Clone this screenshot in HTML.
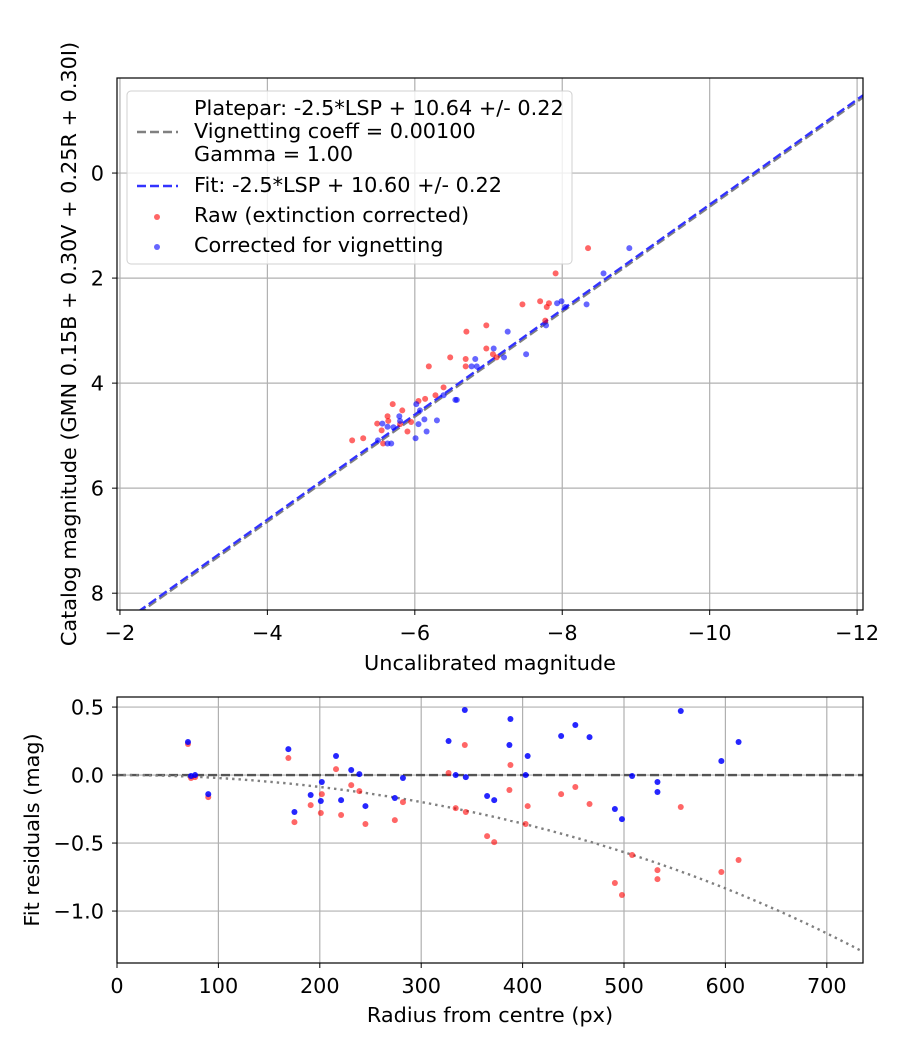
<!DOCTYPE html>
<html><head><meta charset="utf-8"><style>
body{margin:0;background:#fff}
svg{display:block;font-family:"DejaVu Sans","Liberation Sans",sans-serif}
</style></head><body>
<svg id="c" width="900" height="1050" viewBox="0 0 900 1050"></svg>
<script>
// ---- top chart data ----
const rawMag=[-8.35,-7.91,-7.46,-7.70,-7.79,-7.82,-7.77,-6.70,-6.97,-6.97,-6.48,-6.69,-6.69,-7.06,-7.11,-6.19,-6.39,-6.28,-6.05,-6.14,-5.70,-5.83,-5.63,-5.49,-5.64,-5.80,-5.90,-5.55,-5.15,-5.30,-5.57,-5.95];
const rawCat=[1.43,1.91,2.50,2.44,2.55,2.48,2.81,3.02,2.90,3.34,3.51,3.54,3.68,3.45,3.51,3.68,4.08,4.23,4.34,4.30,4.40,4.52,4.63,4.77,4.72,4.78,4.92,4.90,5.09,5.05,5.15,4.74];
const corMag=[-8.91,-8.56,-7.93,-7.99,-8.33,-8.04,-7.78,-7.26,-7.07,-7.51,-7.21,-6.82,-6.77,-6.84,-6.55,-6.57,-6.39,-6.02,-6.07,-6.13,-6.30,-5.79,-6.05,-6.16,-5.71,-5.56,-5.63,-6.01,-5.50,-5.63,-5.68,-5.80];
const corCat=[1.43,1.91,2.48,2.44,2.50,2.55,2.90,3.02,3.34,3.45,3.51,3.54,3.68,3.68,4.32,4.32,4.23,4.40,4.52,4.69,4.71,4.63,4.78,4.92,4.84,4.77,4.83,5.05,5.09,5.15,5.15,4.72];
const platepar=10.64, fitZero=10.60;
const topXTicks=[-2,-4,-6,-8,-10,-12];
const topYTicks=[0,2,4,6,8];
// ---- bottom chart data ----
const radius=[70,73,77,90,169,175,191,202,201,216,221,231,239,245,274,282,327,334,343,344,365,372,388,387,405,403,438,452,466,491,498,508,533,533,556,596,613];
const resCorr=[0.243,-0.007,0,-0.140,0.191,-0.272,-0.147,-0.051,-0.191,0.140,-0.184,0.037,0.007,-0.228,-0.169,-0.022,0.25,0,0.478,-0.015,-0.154,-0.184,0.412,0.221,0.140,0,0.287,0.368,0.279,-0.25,-0.324,-0.007,-0.051,-0.125,0.471,0.103,0.243];
const resRaw=[0.228,-0.022,-0.015,-0.162,0.125,-0.346,-0.221,-0.140,-0.279,0.044,-0.294,-0.074,-0.118,-0.360,-0.331,-0.199,0.015,-0.243,0.221,-0.272,-0.449,-0.493,0.074,-0.110,-0.228,-0.360,-0.140,-0.088,-0.213,-0.794,-0.882,-0.588,-0.699,-0.765,-0.235,-0.713,-0.625];
const vigCoeff=0.001;
const botXTicks=[0,100,200,300,400,500,600,700];
const botYTicks=[0.5,0,-0.5,-1];

const FS=20.8;
const S="http://www.w3.org/2000/svg", svg=document.getElementById('c');
function el(t,a,p){const e=document.createElementNS(S,t);for(const k in a)e.setAttribute(k,a[k]);(p||svg).appendChild(e);return e;}
const T={l:117,r:863,t:78,b:610,x0:-1.96,x1:-12.08,y0:-1.81,y1:8.32};
const tx=v=>T.l+(v-T.x0)/(T.x1-T.x0)*(T.r-T.l);
const ty=v=>T.t+(v-T.y0)/(T.y1-T.y0)*(T.b-T.t);
const B={l:117,r:863,t:697,b:963,x0:0,x1:735.7,y0:0.574,y1:-1.382};
const bx=v=>B.l+(v-B.x0)/(B.x1-B.x0)*(B.r-B.l);
const by=v=>B.t+(v-B.y0)/(B.y1-B.y0)*(B.b-B.t);

function clip(id,A){const d=el('clipPath',{id:id});el('rect',{x:A.l,y:A.t,width:A.r-A.l,height:A.b-A.t},d);}
clip('ct',T);clip('cb',B);

const gT=el('g',{});


topXTicks.forEach(v=>{const x=tx(v);el('line',{x1:x,x2:x,y1:T.t,y2:T.b,stroke:'#b0b0b0','stroke-width':1.2},gT);el('line',{x1:x,x2:x,y1:T.b,y2:T.b+5,stroke:'#000'});
 const t=el('text',{x:x,y:T.b+30,'text-anchor':'middle','font-size':FS});t.textContent=(v<0?'\u2212'+(-v):v);
 });
topYTicks.forEach(v=>{const y=ty(v);el('line',{x1:T.l,x2:T.r,y1:y,y2:y,stroke:'#b0b0b0','stroke-width':1.2},gT);el('line',{x1:T.l-5,x2:T.l,y1:y,y2:y,stroke:'#000'});
 const t=el('text',{x:T.l-13,y:y+7.5,'text-anchor':'end','font-size':FS});t.textContent=v;
 });
const gl=el('g',{'clip-path':'url(#ct)'});
const lp=el('line',{x1:tx(T.x0),y1:ty(T.x0+platepar),x2:tx(T.x1),y2:ty(T.x1+platepar),stroke:'#808080','stroke-width':2.4,'stroke-dasharray':'9 4'},gl);

const lf=el('line',{x1:tx(T.x0),y1:ty(T.x0+fitZero),x2:tx(T.x1),y2:ty(T.x1+fitZero),stroke:'#3333ff','stroke-width':2.4,'stroke-dasharray':'9 4'},gl);

rawMag.forEach((m,i)=>{const c=el('circle',{cx:tx(m),cy:ty(rawCat[i]),r:3,fill:'#ff0000','fill-opacity':0.6},gl);
 });
corMag.forEach((m,i)=>{const c=el('circle',{cx:tx(m),cy:ty(corCat[i]),r:3,fill:'#0000ff','fill-opacity':0.6},gl);
 });
el('rect',{x:T.l,y:T.t,width:T.r-T.l,height:T.b-T.t,fill:'none',stroke:'#000','stroke-width':1.2});

const lg=el('g',{});

el('rect',{x:127,y:91,width:445,height:173,rx:4,fill:'#fff','fill-opacity':0.8,stroke:'#d0d0d0'},lg);
el('line',{x1:137,x2:178,y1:132,y2:132,stroke:'#808080','stroke-width':2.4,'stroke-dasharray':'9 4'},lg);
el('line',{x1:137,x2:178,y1:186,y2:186,stroke:'#3333ff','stroke-width':2.4,'stroke-dasharray':'9 4'},lg);
el('circle',{cx:157,cy:217,r:3,fill:'#ff0000','fill-opacity':0.6},lg);
el('circle',{cx:157,cy:247,r:3,fill:'#0000ff','fill-opacity':0.6},lg);
[['Platepar: -2.5*LSP + 10.64 +/- 0.22',115],['Vignetting coeff = 0.00100',138],['Gamma = 1.00',161],['Fit: -2.5*LSP + 10.60 +/- 0.22',192],['Raw (extinction corrected)',222],['Corrected for vignetting',252]].forEach(([s,y])=>{
 const t=el('text',{x:194,y:y,'font-size':FS},lg);t.textContent=s;
 });

let t=el('text',{x:490,y:670,'text-anchor':'middle','font-size':FS});t.textContent='Uncalibrated magnitude';

t=el('text',{x:0,y:0,'text-anchor':'middle','font-size':FS,transform:'translate(76,344) rotate(-90)'});t.textContent='Catalog magnitude (GMN 0.15B + 0.30V + 0.25R + 0.30I)';


const gB=el('g',{});

botXTicks.forEach(v=>{const x=bx(v);el('line',{x1:x,x2:x,y1:B.t,y2:B.b,stroke:'#b0b0b0','stroke-width':1.2},gB);el('line',{x1:x,x2:x,y1:B.b,y2:B.b+5,stroke:'#000'});
 const t=el('text',{x:x,y:B.b+30,'text-anchor':'middle','font-size':FS});t.textContent=v;
 });
botYTicks.forEach(v=>{const y=by(v);el('line',{x1:B.l,x2:B.r,y1:y,y2:y,stroke:'#b0b0b0','stroke-width':1.2},gB);el('line',{x1:B.l-5,x2:B.l,y1:y,y2:y,stroke:'#000'});
 const t=el('text',{x:B.l-13,y:y+7.5,'text-anchor':'end','font-size':FS});t.textContent=(v<0?'\u2212'+(-v).toFixed(1):v.toFixed(1));
 });
const gb=el('g',{'clip-path':'url(#cb)'});
const zl=el('line',{x1:B.l,x2:B.r,y1:by(0),y2:by(0),stroke:'#555','stroke-width':2.4,'stroke-dasharray':'9 4'},gb);

let d='';for(let r=0;r<=736;r+=4){const v=10*Math.log10(Math.cos(r*vigCoeff));d+=(r?'L':'M')+bx(r).toFixed(1)+','+by(v).toFixed(1);}
const vc=el('path',{d:d,fill:'none',stroke:'#808080','stroke-width':2.4,'stroke-dasharray':'2.4 4'},gb);

radius.forEach((r,i)=>{const c=el('circle',{cx:bx(r),cy:by(resRaw[i]),r:3,fill:'#ff0000','fill-opacity':0.6},gb);
 });
radius.forEach((r,i)=>{const c=el('circle',{cx:bx(r),cy:by(resCorr[i]),r:3,fill:'#0000ff','fill-opacity':0.85},gb);
 });
el('rect',{x:B.l,y:B.t,width:B.r-B.l,height:B.b-B.t,fill:'none',stroke:'#000','stroke-width':1.2});
t=el('text',{x:490,y:1022,'text-anchor':'middle','font-size':FS});t.textContent='Radius from centre (px)';

t=el('text',{x:0,y:0,'text-anchor':'middle','font-size':FS,transform:'translate(39,830) rotate(-90)'});t.textContent='Fit residuals (mag)';

</script>
</body></html>
